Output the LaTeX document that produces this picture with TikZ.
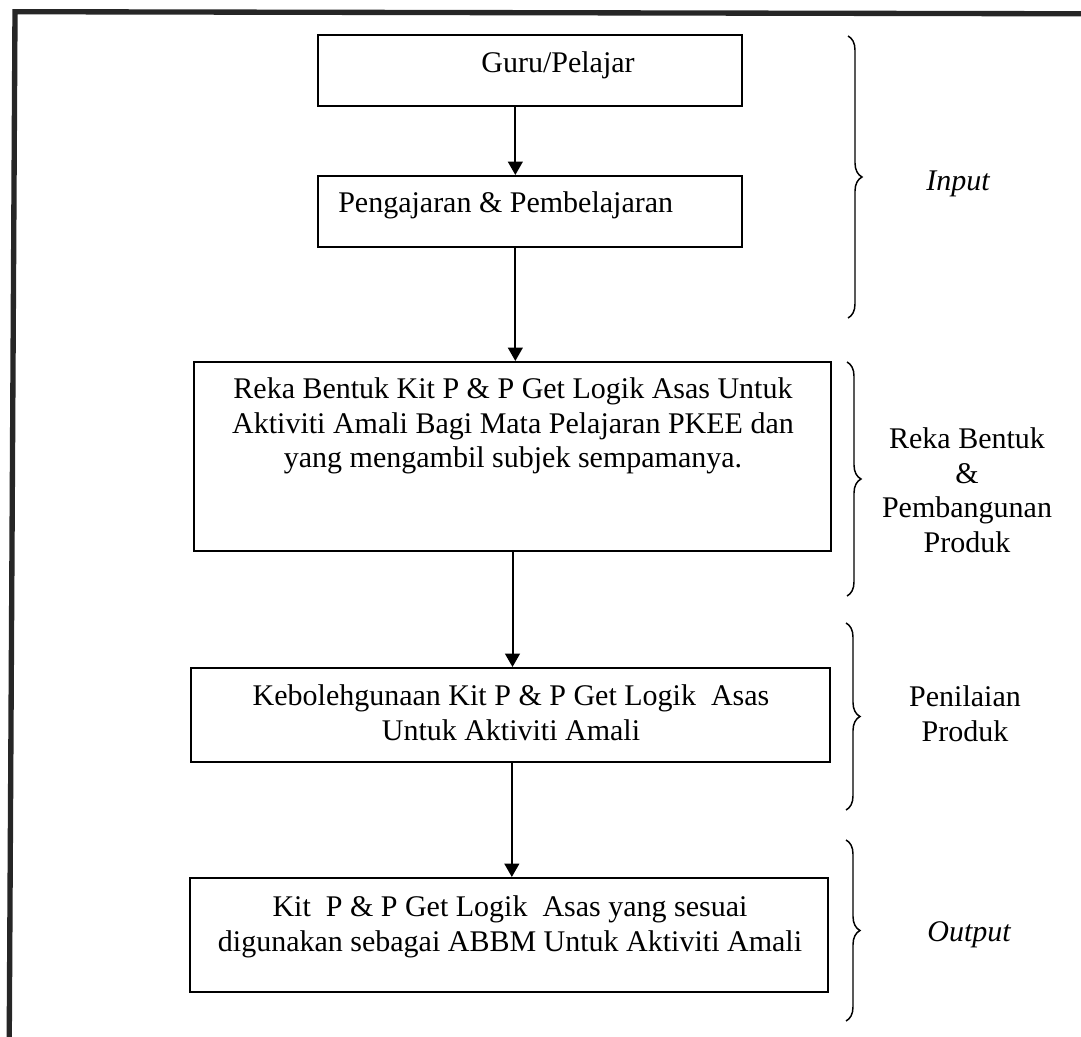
\documentclass[tikz,border=0pt]{standalone}
\usepackage{fontspec}
\setmainfont{Liberation Serif}
\usetikzlibrary{arrows.meta,decorations.pathreplacing}

\begin{document}
\begin{tikzpicture}[
    x=0.75pt, y=-0.75pt,
    font=\fontsize{22.5pt}{26pt}\selectfont,
    box/.style={draw, line width=1.5pt, inner sep=0pt},
    txt/.style={inner sep=0pt, align=center},
    arr/.style={-{Triangle[length=10pt, width=11pt]}, line width=1.5pt},
    brc/.style={decorate, line width=1.1pt,
                decoration={brace, amplitude=10.5pt}}
]
  \useasboundingbox (0,0) rectangle (1081,1037);
  % page frame
  \draw[line width=4pt, black!85] (9.2,1045) -- (15,11.7) -- (1090,13.8);

  % boxes
  \node[box, minimum width=318pt, minimum height=53.25pt]   (guru) at (530,70.5)  {};
  \node[box, minimum width=318pt, minimum height=53.25pt]   (ajar) at (530,211.5) {};
  \node[box, minimum width=477.75pt, minimum height=141.75pt] (reka) at (512.5,456.5) {};
  \node[box, minimum width=479.25pt, minimum height=70.5pt] (guna) at (510.5,715) {};
  \node[box, minimum width=478.5pt, minimum height=85.5pt]  (kit)  at (509,935)   {};

  % box texts
  \node[txt, anchor=base]      (guruTxt) at (558,73)  {Guru/Pelajar};
  \node[txt, anchor=base west] (ajarTxt) at (338,213) {Pengajaran \& Pembelajaran};
  \node[txt, anchor=north]     (rekaTxt) at (513,377.5)
    {Reka Bentuk Kit P \& P Get Logik Asas Untuk\\
     Aktiviti Amali Bagi Mata Pelajaran PKEE dan\\
     yang mengambil subjek sempamanya.};
  \node[txt, anchor=north]     (gunaTxt) at (511,684.5)
    {Kebolehgunaan Kit P \& P Get Logik\ \ Asas\\ Untuk Aktiviti Amali};
  \node[txt, anchor=north]     (kitTxt)  at (510,895.5)
    {Kit\ \ P \& P Get Logik\ \ Asas yang sesuai\\
     digunakan sebagai ABBM Untuk Aktiviti Amali};

  % arrows
  \draw[arr] ([xshift=-11pt]guru.south) -- ([xshift=-11pt]ajar.north);
  \draw[arr] ([xshift=-11pt]ajar.south) -- ([xshift=-11pt]ajar.south |- reka.north);
  \draw[arr] (reka.south) -- (reka.south |- guna.north);
  \draw[arr] ([xshift=1pt]guna.south) -- ([xshift=1pt]guna.south |- kit.north);

  % braces and stage labels
  \draw[brc] (848,36)  -- (848,318);
  \draw[brc] (847,362) -- (847,596);
  \draw[brc] (846,623) -- (846,810);
  \draw[brc] (846,840) -- (846,1021);

  \node[txt, anchor=base]  (input)  at (958,191)   {\itshape Input};
  \node[txt, anchor=north] (reka2)  at (967,427.5) {Reka Bentuk\\ \&\\ Pembangunan\\ Produk};
  \node[txt, anchor=north] (nilai)  at (965,685.5) {Penilaian\\ Produk};
  \node[txt, anchor=base]  (output) at (969,941.5) {\itshape Output};
\end{tikzpicture}
\end{document}
